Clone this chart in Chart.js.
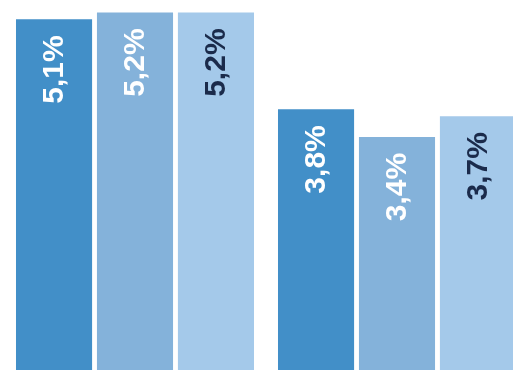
<!DOCTYPE html>
<html>
<head>
<meta charset="utf-8">
<script src="https://cdn.jsdelivr.net/npm/chart.js@4/dist/chart.umd.min.js"></script>
<style>
  html, body { margin: 0; padding: 0; background: #ffffff; }
  #wrap { width: 513px; height: 370px; overflow: hidden; position: relative; }
  canvas { position: absolute; left: 0; top: 0; }
</style>
</head>
<body>
<div id="wrap"><canvas id="c" width="530" height="372"></canvas></div>
<script>
const categories = ['', ''];
const series1 = [5.1, 3.8];
const series2 = [5.2, 3.4];
const series3 = [5.2, 3.7];
const barColors = ['#428fc8', '#84b2da', '#a4c9ea'];
const labelColors = ['#ffffff', '#ffffff', '#1b2b4b'];

function fmt(v) { return v.toFixed(1).replace('.', ',') + '%'; }

const labelPlugin = {
  id: 'vlabels',
  afterDatasetsDraw(chart) {
    const ctx = chart.ctx;
    chart.data.datasets.forEach((ds, di) => {
      const meta = chart.getDatasetMeta(di);
      meta.data.forEach((bar, i) => {
        ctx.save();
        ctx.translate(bar.x, bar.y + 16);
        ctx.rotate(-Math.PI / 2);
        ctx.font = 'bold 30px "Liberation Sans", Arial, sans-serif';
        ctx.fillStyle = labelColors[di];
        ctx.textAlign = 'right';
        ctx.textBaseline = 'middle';
        ctx.fillText(fmt(ds.data[i]), 0, 1);
        ctx.restore();
      });
    });
  }
};

new Chart(document.getElementById('c'), {
  type: 'bar',
  data: {
    labels: categories,
    datasets: [
      { data: series1, backgroundColor: barColors[0] },
      { data: series2, backgroundColor: barColors[1] },
      { data: series3, backgroundColor: barColors[2] }
    ]
  },
  options: {
    responsive: false,
    animation: false,
    layout: { padding: { left: 4, right: 2, top: 0, bottom: 0 } },
    datasets: { bar: { categoryPercentage: 0.927, barPercentage: 0.94 } },
    plugins: { legend: { display: false }, tooltip: { enabled: false } },
    scales: {
      x: { display: false },
      y: { display: false, min: 0, max: 5.38 }
    }
  },
  plugins: [labelPlugin]
});
</script>
</body>
</html>
